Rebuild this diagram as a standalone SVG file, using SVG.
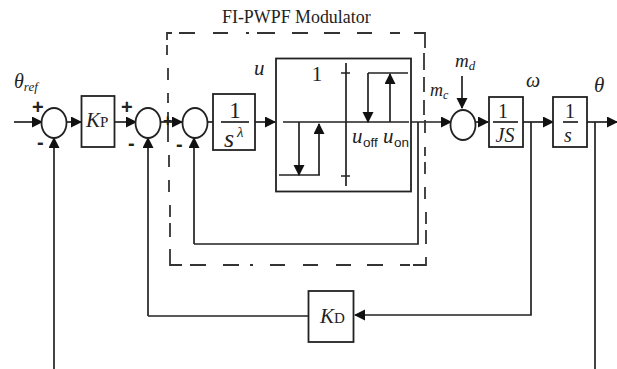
<svg xmlns="http://www.w3.org/2000/svg" width="617" height="369" viewBox="0 0 617 369">
<style>
.l{fill:none;stroke:#222;stroke-width:1.7}
.b{fill:#fff;stroke:#222;stroke-width:1.8}
.c{fill:#fff;stroke:#222;stroke-width:1.8}
.d{fill:none;stroke:#333;stroke-width:1.8}
text{font-family:"Liberation Serif",serif;fill:#222}
.i{font-style:italic}
.s{font-family:"Liberation Sans",sans-serif}
.p{font-family:"Liberation Sans",sans-serif;font-weight:bold}
</style>
<defs><marker id="a" markerWidth="13" markerHeight="13" refX="10" refY="5.500" orient="auto" markerUnits="userSpaceOnUse"><path d="M0 0L11 5.500L0 11Z" fill="#111"/></marker></defs>
<rect width="617" height="369" fill="#fff"/>
<g id="connectors">
<path class="l" marker-end="url(#a)" d="M14 122H42"/>
<path class="l" marker-end="url(#a)" d="M67 122H81"/>
<path class="l" marker-end="url(#a)" d="M115 122H136"/>
<path class="l" marker-end="url(#a)" d="M161 122H182"/>
<path class="l" d="M207 122H213"/>
<path class="l" marker-end="url(#a)" d="M255 122H275"/>
<path class="l" marker-end="url(#a)" d="M411 122H451"/>
<path class="l" marker-end="url(#a)" d="M474 122H488"/>
<path class="l" marker-end="url(#a)" d="M523 122H553"/>
<path class="l" marker-end="url(#a)" d="M587 122H617"/>
<path class="l" marker-end="url(#a)" d="M462 76V108"/>
<path class="l" marker-end="url(#a)" d="M54 369V138"/>
<path class="l" marker-end="url(#a)" d="M148 316V138"/>
<path class="l" d="M148 316H309"/>
<path class="l" marker-end="url(#a)" d="M194 244V138"/>
<path class="l" d="M194 244H418V122"/>
<path class="l" marker-end="url(#a)" d="M531 122V315H355"/>
<path class="l" d="M595 122V369"/>
</g>
<g id="modulator">
<path class="d" d="M167 40V33H172M179 33H195M213 33H228M246 33H249M257 33H275M292 33H308M324 33H340M357 33H372M390 33H400M414 33H425V48"/>
<path class="d" d="M167 45V55M168 68V80M168 93V103M168 112V142M169 155V167M169 180V192M170 205V217M170 223V237M170 249V265H182M190 265H206M223 265H239M250 265H253M270 265H285M303 265H318M336 265H351M367 265H383M400 265H410M413 265H426V257"/>
<path class="d" d="M424 53V70M424 77V92M424 100V115M425 120V133M425 147V156M425 162V174M425 187V199M426 212V224M426 230V244"/>
<text x="222" y="23" font-size="17.900">FI-PWPF Modulator</text>
</g>
<g id="sum1"><ellipse class="c" cx="54" cy="123" rx="12.500" ry="15"/><text class="p" x="32" y="114" font-size="20">+</text><text class="p" x="37" y="149" font-size="20">-</text></g>
<g id="kp"><rect class="b" x="81.500" y="96" width="33" height="51"/><text class="i" x="86" y="127" font-size="21">K</text><text x="100" y="127" font-size="15">P</text></g>
<g id="sum2"><ellipse class="c" cx="148" cy="123" rx="12.500" ry="15"/><text class="p" x="121" y="114" font-size="20">+</text><text class="p" x="128" y="150" font-size="20">-</text></g>
<g id="sum3"><ellipse class="c" cx="195" cy="123" rx="12.500" ry="15"/><text class="p" x="163" y="126" font-size="16">+</text><text class="p" x="176" y="151" font-size="20">-</text></g>
<g id="integrator"><rect class="b" x="213" y="94" width="42" height="56"/><path class="l" d="M221 122H249"/><text x="235" y="118" font-size="23" text-anchor="middle">1</text><text class="i" x="224" y="147" font-size="26">s</text><text class="i" x="237" y="137" font-size="15">λ</text></g>
<text id="u" class="i" x="254" y="75" font-size="21">u</text>
<g id="relay">
<rect class="b" x="276" y="58.500" width="135" height="133"/>
<path class="l" d="M283 122H409M346 63V186M341 73H350M341 176H350"/>
<path class="l" d="M279 175H320"/>
<path class="l" marker-end="url(#a)" d="M319 175V124"/>
<path class="l" marker-end="url(#a)" d="M299 122V175"/>
<path class="l" d="M408 73H368"/>
<path class="l" marker-end="url(#a)" d="M368 73V122"/>
<path class="l" marker-end="url(#a)" d="M390 122V74"/>
<text x="317" y="81" font-size="21" text-anchor="middle">1</text>
<text class="i" x="352" y="143" font-size="21">u</text><text class="s" x="363" y="147" font-size="13.500">off</text>
<text class="i" x="383" y="143" font-size="21">u</text><text class="s" x="394" y="147" font-size="13.500">on</text>
</g>
<text id="mc" class="i" x="430" y="96" font-size="18">m<tspan font-size="12" dy="3">c</tspan></text>
<text id="md" class="i" x="455" y="67" font-size="19">m<tspan font-size="13" dy="3">d</tspan></text>
<g id="sum4"><ellipse class="c" cx="463" cy="125" rx="12.500" ry="15"/></g>
<g id="plant"><rect class="b" x="489" y="97" width="34" height="50"/><path class="l" d="M493 122H518"/><text x="503" y="118" font-size="20" text-anchor="middle">1</text><text class="i" x="505" y="142" font-size="20" text-anchor="middle">JS</text></g>
<g id="integ2"><rect class="b" x="553" y="97" width="34" height="50"/><path class="l" d="M563 122H578"/><text x="570" y="118" font-size="20" text-anchor="middle">1</text><text class="i" x="568" y="142" font-size="20" text-anchor="middle">s</text></g>
<text id="omega" class="i" x="526" y="87" font-size="20">ω</text>
<text id="theta" class="i" x="594" y="92" font-size="21">θ</text>
<text id="thetaref" class="i" x="14" y="88" font-size="20">θ<tspan font-size="13" dy="3">ref</tspan></text>
<g id="kd"><rect class="b" x="308.500" y="291" width="45" height="51"/><text class="i" x="320" y="323" font-size="21">K</text><text x="334" y="323" font-size="15">D</text></g>
</svg>
